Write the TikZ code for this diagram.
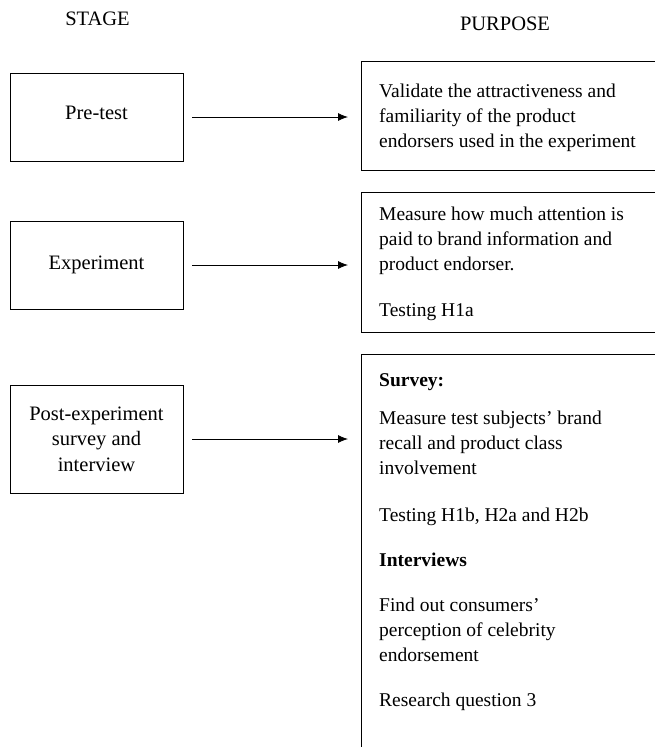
\documentclass[tikz,border=0pt]{standalone}
\usepackage{fontspec}
\setmainfont{Liberation Serif}
\usetikzlibrary{arrows.meta,positioning}
\tikzset{
  stagebox/.style={
    draw,
    line width=0.9pt,
    align=center,
    inner sep=0pt,
    minimum width=173pt,
    font=\fontsize{20.5}{25.5}\selectfont
  },
  purposebox/.style={
    draw,
    line width=0.9pt,
    inner sep=0pt,
    anchor=north west,
    minimum width=310pt
  },
  purposetext/.style={
    anchor=base west,
    align=left,
    inner sep=0pt,
    font=\fontsize{19.5}{25}\selectfont
  },
  heading/.style={font=\fontsize{20.5}{24}\selectfont},
  every edge/.style={draw, -{Latex[length=10pt,width=8pt]}, line width=0.8pt,
    shorten <=9pt, shorten >=13pt}
}
\begin{document}
\begin{tikzpicture}[x=1pt,y=1pt]
  \useasboundingbox (0,0) rectangle (655,-747);
  \clip (0,0) rectangle (655,-747);

  \node[heading] (stage) at (97.5,-19) {STAGE};
  \node[heading] (purpose) at (505,-24) {PURPOSE};

  % stages
  \node[stagebox, minimum height=88pt, text depth=9pt] (pretest) at (96.5,-117) {Pre-test};
  \node[stagebox, minimum height=88pt] (experiment) at (96.5,-265) {Experiment};
  \node[stagebox, minimum height=108pt] (postexp) at (96.5,-439)
    {Post-experiment\\survey and\\interview};

  % purposes
  \node[purposebox, minimum height=109pt] (validate) at (361,-61) {};
  \node[purposebox, minimum height=140pt] (measure) at (361,-192) {};
  \node[purposebox, minimum height=420pt] (survey) at (361,-354) {};

  \node[purposetext] (validatetxt) at (379,-147)
    {Validate the attractiveness and\\familiarity of the product\\endorsers used in the experiment};

  \node[purposetext] (measuretxt) at (379,-270)
    {Measure how much attention is\\paid to brand information and\\product endorser.};
  \node[purposetext] (testa) at (379,-316) {Testing H1a};

  \node[purposetext] (surveyhead) at (379,-386) {\textbf{Survey:}};
  \node[purposetext] (surveytxt) at (379,-474)
    {Measure test subjects’ brand\\recall and product class\\involvement};
  \node[purposetext] (testb) at (379,-521) {Testing H1b, H2a and H2b};
  \node[purposetext] (interviewhead) at (379,-566) {\textbf{Interviews}};
  \node[purposetext] (interviewtxt) at (379,-661)
    {Find out consumers’\\perception of celebrity\\endorsement};
  \node[purposetext] (research) at (379,-706) {Research question 3};

  \path (pretest.east) edge (pretest.east -| validate.west)
        (experiment.east) edge (experiment.east -| measure.west)
        (postexp.east) edge (postexp.east -| survey.west);
\end{tikzpicture}
\end{document}
